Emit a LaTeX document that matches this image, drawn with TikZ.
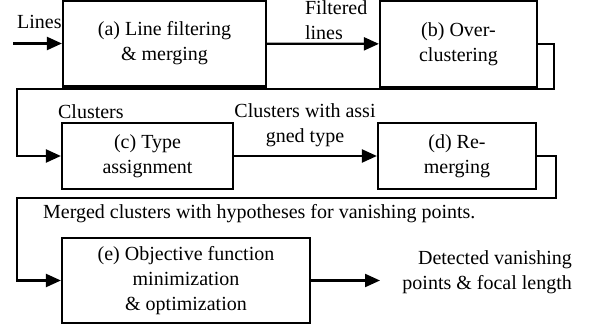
\documentclass[tikz,border=0pt]{standalone}
\usepackage{fontspec}
\setmainfont{Liberation Serif}
\usetikzlibrary{arrows.meta}

\begin{document}
\begin{tikzpicture}[x=0.5pt, y=-0.5pt, line width=1.1pt,
  every node/.style={font=\fontsize{10}{12.4}\selectfont, inner sep=0pt},
  stage/.style={draw, align=center, minimum height=#1},
  stage/.default=43pt,
  arr/.style={-{Triangle[length=7.5pt,width=6.5pt]}}]
\useasboundingbox (0,0) rectangle (595,331);

\node[stage, minimum width=101.5pt] (a) at (164.5,43.5) {(a) Line filtering\\\& merging};
\node[stage, minimum width=78.5pt] (b) at (458.5,44) {(b) Over-\\clustering};
\node[stage=33pt, minimum width=85.5pt] (c) at (147.5,156) {(c) Type\\assignment};
\node[stage=33pt, minimum width=79pt] (d) at (457,156) {(d) Re-\\merging};
\node[stage=42.5pt, minimum width=124pt] (e) at (186,280.5) {(e) Objective function\\minimization\\\& optimization};


\coordinate (in) at (13,43.5);
\node[anchor=west] (lines) at (16,22) {Lines};
\draw[arr] (in) -- (a);

\node[anchor=west, align=left] (filtered) at (304,20) {Filtered\\lines};
\draw[arr] (a) -- (b);

\coordinate (fb1) at (554,89);
\coordinate (fb2) at (17,89);
\node[anchor=west] (clusters) at (57,112) {Clusters};
\draw[arr] (b.east) -| (fb1) -- (fb2) |- (c.west);

\node[align=center] (typed) at (305,125) {Clusters with assi\\gned type};
\draw[arr] (c) -- (d);

\coordinate (fd1) at (556,198);
\coordinate (fd2) at (17,198);
\node[anchor=west] (merged) at (42,214) {Merged clusters with hypotheses for vanishing points.};
\draw[arr] (d.east) -| (fd1) -- (fd2) |- (e.west);

\coordinate (out) at (380,280.5);
\node[anchor=east, align=right] (result) at (573,272) {Detected vanishing\\points \& focal length};
\draw[arr] (e) -- (out);

\end{tikzpicture}
\end{document}
